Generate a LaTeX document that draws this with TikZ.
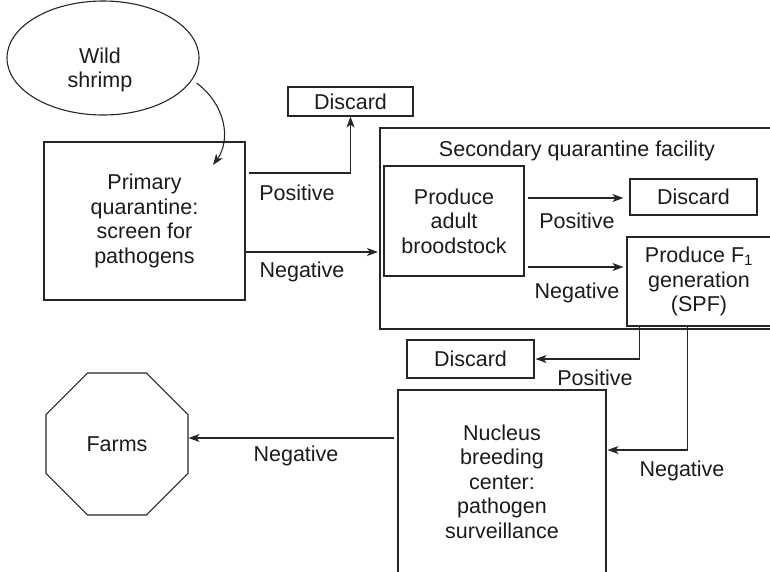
\documentclass[tikz,border=0pt]{standalone}
\usepackage{fontspec}
\setmainfont{Liberation Sans}
\usetikzlibrary{arrows.meta,calc,shapes.geometric}
\definecolor{ink}{HTML}{1E1A1B}
\definecolor{wire}{HTML}{262626}

\tikzset{
  every node/.style={font=\fontsize{21.5}{24.5}\selectfont, text=ink},
  box/.style={draw=wire, line width=1.1pt, rectangle, inner sep=0pt, align=center},
  lbl/.style={anchor=base, inner sep=0pt},
  arr/.style={draw=wire, line width=1.1pt, -{Stealth[length=11pt,width=8pt,inset=3pt]}},
}

\begin{document}
\begin{tikzpicture}[x=1pt,y=-1pt]
\useasboundingbox (0,0) rectangle (770,571);
\clip (0,0) rectangle (770,571);

% wild stock and primary screening
\node[draw=wire, line width=1.1pt, ellipse, inner sep=0pt,
      minimum width=192pt, minimum height=114pt] (wild) at (103,58) {};
\node[align=center, inner sep=0pt] (wildtxt) at (100,70) {Wild\\shrimp};
\node[box, minimum width=201pt, minimum height=158pt] (primary) at (144.5,221)
  {Primary\\quarantine:\\screen for\\pathogens};
\node[box, minimum width=125pt, minimum height=29pt] (disc1) at (350.5,101.5) {Discard};

% secondary quarantine facility
\node[box, minimum width=394pt, minimum height=201pt] (sec) at (577,228.5) {};
\node[lbl] (sectitle) at (577,156) {Secondary quarantine facility};
\node[box, minimum width=140pt, minimum height=110pt] (brood) at (454,221)
  {Produce\\adult\\broodstock};
\node[box, minimum width=127pt, minimum height=36pt] (disc2) at (693.5,197) {Discard};
\node[box, minimum width=144pt, minimum height=89pt] (f1) at (699,281.5)
  {Produce F\textsubscript{1}\\generation\\(SPF)};

% breeding centre and farms
\node[box, minimum width=127pt, minimum height=38pt] (disc3) at (470.5,359) {Discard};
\node[box, minimum width=208pt, minimum height=183pt] (nuc) at (502,481.5)
  {Nucleus\\breeding\\center:\\pathogen\\surveillance};
\node[draw=wire, line width=1.1pt, regular polygon, regular polygon sides=8,
      inner sep=0pt, minimum size=153.7pt] (farms) at (117,444) {Farms};

% connectors
\draw[arr] ($(wild.east)+(-3,25)$) .. controls (226,105) and (231,140) .. (213,165);

\coordinate (p1) at ($(primary.east)+(3,-48)$);
\draw[arr] (p1) -| (disc1.south);
\coordinate (n1) at ($(primary.east)+(0,31)$);
\draw[arr, shorten >=1.5pt] (n1) -- (sec.west |- n1);

\coordinate (b1) at ($(brood.east)+(3,-23)$);
\draw[arr, shorten >=6pt] (b1) -- (disc2.west |- b1);
\coordinate (b2) at ($(brood.east)+(3,46)$);
\draw[arr, shorten >=3pt] (b2) -- (f1.west |- b2);

\coordinate (fa) at ($(f1.south west)+(13,0)$);
\draw[arr, shorten >=1pt] (fa) |- (disc3.east);
\coordinate (fb) at ($(f1.south west)+(61,0)$);
\coordinate (nin) at ($(nuc.east)+(0,-31.5)$);
\draw[arr, shorten >=1pt] (fb) |- (nin);

\coordinate (ns) at ($(nuc.west)+(-3,-43.5)$);
\draw[arr] (ns) -- (farms.east |- ns);

% branch labels
\node[lbl] (lpos1) at (297,200) {Positive};
\node[lbl] (lneg1) at (302,277) {Negative};
\node[lbl] (lpos2) at (577,228) {Positive};
\node[lbl] (lneg2) at (577,298) {Negative};
\node[lbl] (lpos3) at (595,385) {Positive};
\node[lbl] (lneg3) at (682,476) {Negative};
\node[lbl] (lneg4) at (296,461) {Negative};
\end{tikzpicture}
\end{document}
